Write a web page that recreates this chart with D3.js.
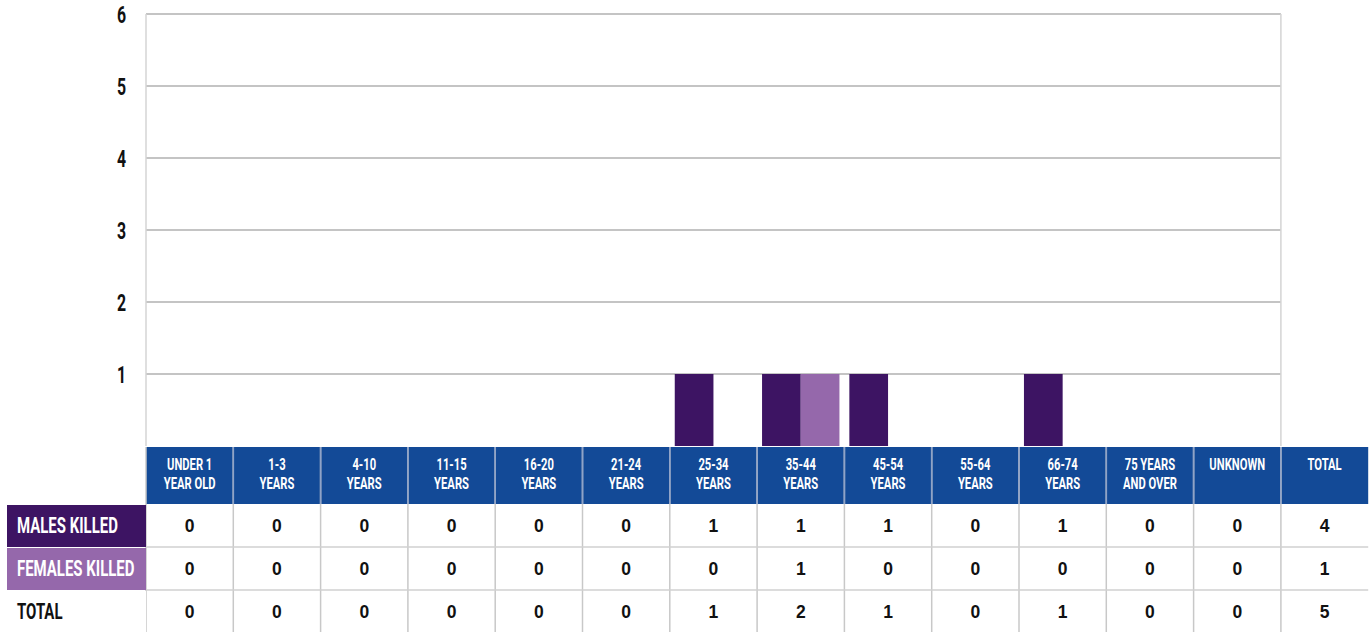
<!DOCTYPE html>
<html>
<head>
<meta charset="utf-8">
<script src="https://cdn.jsdelivr.net/npm/d3@7"></script>
<style>
  body { margin: 0; background: #fff; }
  .cond { font-family: "Roboto", "DejaVu Sans", sans-serif; font-weight: bold; }
  .num { font-family: "Liberation Sans", Arial, sans-serif; font-weight: bold; }
</style>
</head>
<body>
<div id="chart"></div>
<script>
// data
var ageGroups = ["UNDER 1|YEAR OLD", "1-3|YEARS", "4-10|YEARS", "11-15|YEARS", "16-20|YEARS", "21-24|YEARS",
  "25-34|YEARS", "35-44|YEARS", "45-54|YEARS", "55-64|YEARS", "66-74|YEARS", "75 YEARS|AND OVER", "UNKNOWN"];
var malesKilled   = [0, 0, 0, 0, 0, 0, 1, 1, 1, 0, 1, 0, 0];
var femalesKilled = [0, 0, 0, 0, 0, 0, 0, 1, 0, 0, 0, 0, 0];
var yTicks = [1, 2, 3, 4, 5, 6];
var rowLabels = ["MALES KILLED", "FEMALES KILLED", "TOTAL"];

var W = 1372, H = 632;
var plotLeft = 146, colW = 87.3;
var plotRight = plotLeft + colW * ageGroups.length;
var plotTop = 14, base = 446;

var svg = d3.select("#chart").append("svg")
  .attr("width", W).attr("height", H);

var totals = ageGroups.map(function (d, i) { return malesKilled[i] + femalesKilled[i]; });
var sumM = d3.sum(malesKilled), sumF = d3.sum(femalesKilled);
var columns = ageGroups.concat(["TOTAL"]);

// scales
var x0 = d3.scaleBand().domain(ageGroups).range([plotLeft, plotRight]).padding(0);
var xCol = d3.scaleBand().domain(columns).range([plotLeft, plotLeft + colW * columns.length]).padding(0);
var x1 = d3.scaleBand().domain(["m", "f"]).range([0, x0.bandwidth()]).paddingInner(0).paddingOuter(0.128);
var y = d3.scaleLinear().domain([0, 6]).range([base, plotTop]);

// condensed text helper (no narrow font installed, so squeeze it)
function condText(g, x, yy, str, size, sx, anchor, fill) {
  return g.append("text")
    .attr("class", "cond")
    .attr("transform", "translate(" + x + "," + yy + ") scale(" + sx + ",1)")
    .attr("text-anchor", anchor)
    .style("font-size", size + "px")
    .style("fill", fill)
    .text(str);
}

// gridlines
svg.append("g").selectAll("line")
  .data(yTicks)
  .enter().append("line")
    .attr("x1", plotLeft).attr("x2", plotRight)
    .attr("y1", function (d) { return y(d); })
    .attr("y2", function (d) { return y(d); })
    .style("stroke", "#c4c4c4").style("stroke-width", 2);

// plot frame sides
svg.append("line").attr("x1", plotLeft).attr("x2", plotLeft).attr("y1", plotTop).attr("y2", base)
  .style("stroke", "#d4d4d4").style("stroke-width", 1.5);
svg.append("line").attr("x1", plotRight).attr("x2", plotRight).attr("y1", plotTop).attr("y2", base)
  .style("stroke", "#d4d4d4").style("stroke-width", 1.5);

// y labels
var yl = svg.append("g");
yTicks.forEach(function (d) {
  condText(yl, 126, y(d) + 8.5, d, 24, 0.66, "end", "#111");
});

// bars
var groups = svg.append("g").selectAll("g")
  .data(ageGroups)
  .enter().append("g")
    .attr("transform", function (d) { return "translate(" + x0(d) + ",0)"; });

groups.selectAll("rect")
  .data(function (d, i) { return [{k: "m", v: malesKilled[i]}, {k: "f", v: femalesKilled[i]}]; })
  .enter().append("rect")
    .attr("x", function (d) { return x1(d.k); })
    .attr("width", x1.bandwidth())
    .attr("y", function (d) { return y(d.v); })
    .attr("height", function (d) { return base - y(d.v); })
    .style("fill", function (d) { return d.k === "m" ? "#3d1463" : "#9568ab"; });

// table
var headTop = 447, headBot = 504;
var rowY = [504, 547, 590, 633];
var tableRight = xCol.range()[1];

svg.append("rect").attr("x", plotLeft).attr("y", headTop)
  .attr("width", tableRight - plotLeft).attr("height", headBot - headTop)
  .style("fill", "#134a97");

// column separators
svg.append("g").selectAll("line")
  .data(columns.slice(1))
  .enter().append("line")
    .attr("x1", function (d) { return xCol(d); })
    .attr("x2", function (d) { return xCol(d); })
    .attr("y1", headTop).attr("y2", H)
    .style("stroke", "#c8c8c8").style("stroke-width", 1.5);
svg.append("line").attr("x1", plotLeft).attr("x2", plotLeft).attr("y1", headTop).attr("y2", H)
  .style("stroke", "#c8c8c8").style("stroke-width", 1.5);

// header separators lighter over blue
svg.append("g").selectAll("line")
  .data(columns.slice(1))
  .enter().append("line")
    .attr("x1", function (d) { return xCol(d); })
    .attr("x2", function (d) { return xCol(d); })
    .attr("y1", headTop).attr("y2", headBot)
    .style("stroke", "#8fa3c8").style("stroke-width", 1.5);

// row separators
svg.append("g").selectAll("line")
  .data([547, 590])
  .enter().append("line")
    .attr("x1", plotLeft).attr("x2", tableRight)
    .attr("y1", function (d) { return d; }).attr("y2", function (d) { return d; })
    .style("stroke", "#d0d0d0").style("stroke-width", 1.5);

// header text
var hg = svg.append("g");
columns.forEach(function (d) {
  var cx = xCol(d) + xCol.bandwidth() / 2;
  d.split("|").forEach(function (p, j) {
    condText(hg, cx, 470 + j * 19, p, 16.5, 0.68, "middle", "#fff");
  });
});

// row label boxes
var rowFill = ["#3d1463", "#9568ab", "#fff"];
svg.append("g").selectAll("rect")
  .data(rowLabels)
  .enter().append("rect")
    .attr("x", 7)
    .attr("y", function (d, i) { return rowY[i] + 1; })
    .attr("width", plotLeft - 7)
    .attr("height", function (d, i) { return rowY[i + 1] - rowY[i] - 1; })
    .style("fill", function (d, i) { return rowFill[i]; });

var rl = svg.append("g");
rowLabels.forEach(function (d, i) {
  condText(rl, 17, (rowY[i] + rowY[i + 1]) / 2 + 7, d, 22, 0.68, "start", i < 2 ? "#fff" : "#111");
});

// values
var rows = [malesKilled.concat([sumM]), femalesKilled.concat([sumF]), totals.concat([sumM + sumF])];
rows.forEach(function (vals, r) {
  svg.append("g").selectAll("text")
    .data(vals)
    .enter().append("text")
      .attr("class", "num")
      .attr("x", function (d, i) { return xCol(columns[i]) + xCol.bandwidth() / 2; })
      .attr("y", (rowY[r] + rowY[r + 1]) / 2 + 6.5)
      .attr("text-anchor", "middle")
      .style("font-size", "17.5px")
      .style("fill", "#111")
      .text(function (d) { return d; });
});
</script>
</body>
</html>
